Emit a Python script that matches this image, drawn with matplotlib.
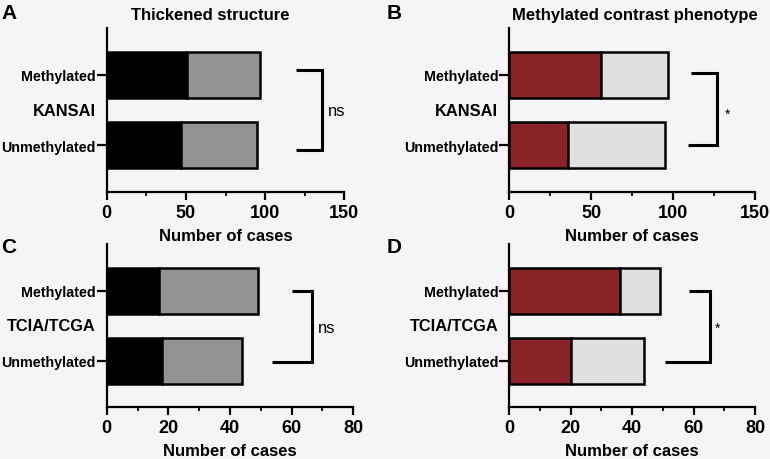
import matplotlib
matplotlib.use("Agg")
import matplotlib.pyplot as plt
from matplotlib.ticker import MultipleLocator

plt.rcParams['font.family'] = ['Liberation Sans', 'DejaVu Sans']

# ---- data ----
groups = ["Unmethylated", "Methylated"]
# Panel A: thickened structure, KANSAI
a_pos = [47, 51]
a_neg = [48, 46]
# Panel B: methylated contrast phenotype, KANSAI
b_pos = [36, 56]
b_neg = [59, 41]
# Panel C: thickened structure, TCIA/TCGA
c_pos = [18, 17]
c_neg = [26, 32]
# Panel D: methylated contrast phenotype, TCIA/TCGA
d_pos = [20, 36]
d_neg = [24, 13]

titles = ["Thickened structure", "Methylated contrast phenotype"]
cohorts = ["KANSAI", "TCIA/TCGA"]
sig = ["ns", "*", "ns", "*"]
xlabel = "Number of cases"

BG = "#f5f5f5"
RED = "#8a2327"
DGRAY = "#939396"
LGRAY = "#e0e0e0"

W, H = 770, 460
fig = plt.figure(figsize=(W / 100, H / 100), dpi=100, facecolor=BG)


def rect(l, r, t, b):
    return [l / W, 1 - b / H, (r - l) / W, (b - t) / H]


panels = [
    dict(rect=rect(106.7, 344.3, 29, 193), pos=a_pos, neg=a_neg, c1="black", c2=DGRAY,
         xmax=150, major=50, minor=25, cohort=cohorts[0], sig=sig[0],
         br=(119.5, 136, 1.07, -0.07, 119.5), st=(145, 0.5), letter="A", lx=9, ly=13.5),
    dict(rect=rect(509.3, 755, 29, 193), pos=b_pos, neg=b_neg, c1=RED, c2=LGRAY,
         xmax=150, major=50, minor=25, cohort=cohorts[0], sig=sig[1],
         br=(111, 127, 1.03, 0.0, 109), st=(133, 0.45), letter="B", lx=394, ly=13.5),
    dict(rect=rect(106.7, 353.3, 245, 408.3), pos=c_pos, neg=c_neg, c1="black", c2=DGRAY,
         xmax=80, major=20, minor=10, cohort=cohorts[1], sig=sig[2],
         br=(60, 66.7, 1.0, -0.02, 53.5), st=(71.4, 0.47), letter="C", lx=8.5, ly=248),
    dict(rect=rect(509.3, 755, 245, 408.3), pos=d_pos, neg=d_neg, c1=RED, c2=LGRAY,
         xmax=80, major=20, minor=10, cohort=cohorts[1], sig=sig[3],
         br=(58.5, 65.4, 1.0, -0.02, 50.7), st=(67.9, 0.47), letter="D", lx=394, ly=248),
]

ypos = list(range(len(groups)))
for p in panels:
    ax = fig.add_axes(p["rect"])
    ax.set_facecolor(BG)
    ax.barh(ypos, p["pos"], height=0.66, color=p["c1"], edgecolor="black", linewidth=1.8, zorder=3)
    ax.barh(ypos, p["neg"], left=p["pos"], height=0.66, color=p["c2"], edgecolor="black",
            linewidth=1.8, zorder=3)
    ax.set_xlim(0, p["xmax"])
    ax.set_ylim(-0.67, 1.67)
    for s in ["top", "right"]:
        ax.spines[s].set_visible(False)
    for s in ["left", "bottom"]:
        ax.spines[s].set_linewidth(1.6)
    ax.xaxis.set_major_locator(MultipleLocator(p["major"]))
    ax.xaxis.set_minor_locator(MultipleLocator(p["minor"]))
    ax.tick_params(axis="x", which="major", length=5.5, width=1.6, pad=3, labelsize=13)
    ax.tick_params(axis="x", which="minor", length=3, width=1.3)
    ax.tick_params(axis="y", which="major", length=7, width=1.6, pad=1, labelsize=10.3)
    ax.set_yticks(ypos)
    ax.set_yticklabels(groups, fontweight="bold")
    for lab in ax.get_xticklabels():
        lab.set_fontweight("bold")
    ax.set_xlabel(xlabel, fontsize=12, fontweight="bold", labelpad=5)
    ax.annotate(p["cohort"], xy=(0, 0.5), xycoords=("axes fraction", "data"),
                xytext=(-8, 0), textcoords="offset points", ha="right", va="center",
                fontsize=11.8, fontweight="bold")
    x1, x2, yt, yb, x0 = p["br"]
    ax.plot([x1, x2, x2, x0], [yt, yt, yb, yb], color="black", lw=2.2, clip_on=False,
            solid_joinstyle="miter", solid_capstyle="butt")
    if p["sig"] == "ns":
        ax.text(p["st"][0], p["st"][1], "ns", fontsize=12, ha="center", va="center")
    else:
        ax.text(p["st"][0], p["st"][1], "*", fontsize=10, ha="center", va="center")
    fig.text(p["lx"] / W, 1 - p["ly"] / H, p["letter"], fontsize=15, fontweight="bold",
             ha="center", va="center")

fig.text(210 / W, 1 - 15.7 / H, titles[0], fontsize=12, fontweight="bold", ha="center", va="center")
fig.text(635 / W, 1 - 15.7 / H, titles[1], fontsize=12, fontweight="bold", ha="center", va="center")

fig.savefig("out.png", dpi=100, facecolor=BG)
